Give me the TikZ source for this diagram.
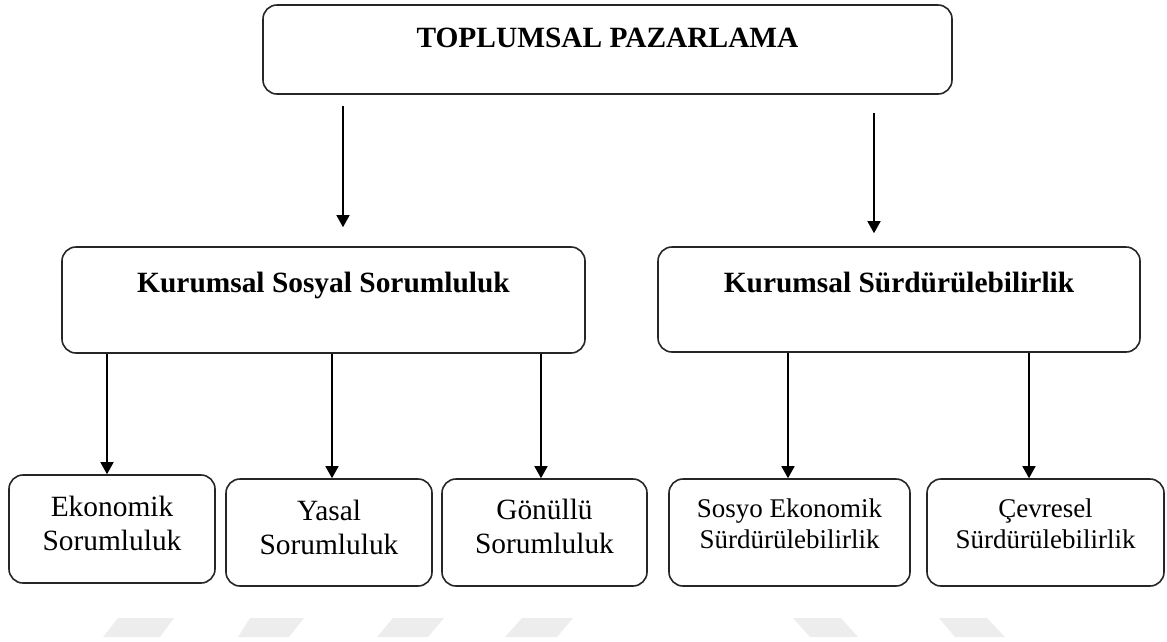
\documentclass[tikz,border=0pt]{standalone}
\usepackage{fontspec}
\setmainfont{Liberation Serif}
\usetikzlibrary{arrows.meta}

\begin{document}
\begin{tikzpicture}[x=1pt, y=-1pt,
  box/.style={draw=black!85, line width=1.6pt, rounded corners=14pt, inner sep=0pt, align=center},
  head/.style={box, font=\fontsize{29.4}{35}\selectfont\bfseries},
  leaf/.style={box, font=\fontsize{29.4}{34}\selectfont},
  leafr/.style={box, font=\fontsize{27}{31}\selectfont},
  arr/.style={-{Triangle[width=13pt,length=12pt]}, line width=1.4pt},
  wm/.style={fill=black!7}]

\useasboundingbox (0,0) rectangle (1167,641);

% boxes
\node (tp) [head, minimum width=689pt, text height=42pt, text depth=47pt] at (607.5,49.5) {TOPLUMSAL PAZARLAMA};
\node (kss) [head, minimum width=523pt, text height=45pt, text depth=61pt] at (323.5,300) {Kurumsal Sosyal Sorumluluk};
\node (ksu) [head, minimum width=482pt, text height=45pt, text depth=60pt] at (899,299.5) {Kurumsal Sürdürülebilirlik};

\node (eko) [leaf, minimum width=206pt, text height=75pt, text depth=33pt] at (112,529) {Ekonomik\\Sorumluluk};
\node (yas) [leaf, minimum width=206pt, text height=75pt, text depth=32pt] at (329,532.5) {Yasal\\Sorumluluk};
\node (gon) [leaf, minimum width=205pt, text height=74pt, text depth=33pt] at (544.5,532.5) {Gönüllü\\Sorumluluk};
\node (sos) [leafr, minimum width=241pt, text height=69pt, text depth=38pt] at (789.5,532.5) {Sosyo Ekonomik\\Sürdürülebilirlik};
\node (cev) [leafr, minimum width=237pt, text height=69pt, text depth=38pt] at (1045.5,532.5) {Çevresel\\Sürdürülebilirlik};

% arrows
\coordinate (p1) at (343,0);
\coordinate (p2) at (874,0);
\draw [arr, shorten <=11pt, shorten >=19pt] (tp.south -| p1) -- (kss.north -| p1);
\draw [arr, shorten <=18pt, shorten >=13pt] (tp.south -| p2) -- (ksu.north -| p2);

\coordinate (q1) at (107,0);
\coordinate (q2) at (332,0);
\coordinate (q3) at (541,0);
\coordinate (q4) at (788,0);
\coordinate (q5) at (1029,0);
\draw [arr] (kss.south -| q1) -- (eko.north -| q1);
\draw [arr] (kss.south -| q2) -- (yas.north -| q2);
\draw [arr] (kss.south -| q3) -- (gon.north -| q3);
\draw [arr] (ksu.south -| q4) -- (sos.north -| q4);
\draw [arr] (ksu.south -| q5) -- (cev.north -| q5);

% watermark
\fill [wm] (103,637) -- (118,618) -- (174,618) -- (160,637) -- cycle;
\fill [wm] (238,637) -- (250,618) -- (304,618) -- (289,637) -- cycle;
\fill [wm] (377,637) -- (393,618) -- (444,618) -- (428,637) -- cycle;
\fill [wm] (505,637) -- (522,618) -- (573,618) -- (557,637) -- cycle;
\fill [wm] (810,637) -- (793,618) -- (841,618) -- (858,637) -- cycle;
\fill [wm] (955,637) -- (939,618) -- (987,618) -- (1005,637) -- cycle;
\end{tikzpicture}
\end{document}
